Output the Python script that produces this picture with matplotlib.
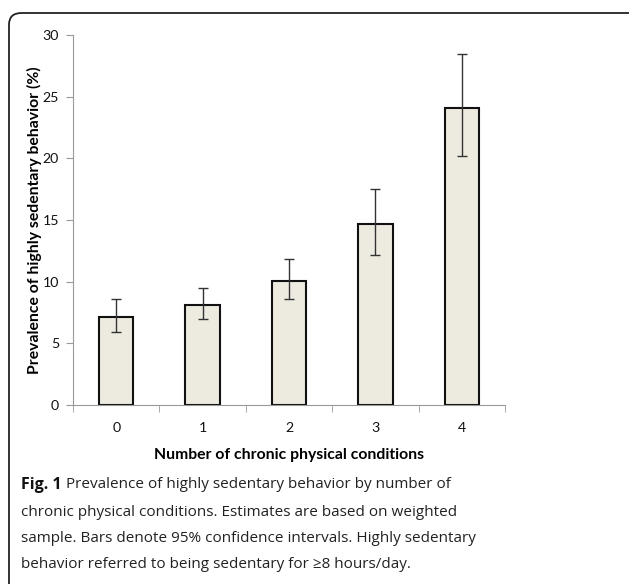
import matplotlib
matplotlib.use("Agg")
import matplotlib.pyplot as plt
from matplotlib.patches import FancyBboxPatch
import numpy as np

# Prevalence (%) by number of chronic physical conditions, with 95% CI
conditions = ["0", "1", "2", "3", "4"]
prevalence = [7.15, 8.1, 10.05, 14.65, 24.1]
ci_low = [5.95, 6.97, 8.57, 12.16, 20.2]
ci_high = [8.57, 9.46, 11.8, 17.54, 28.5]

y_ticks = [0, 5, 10, 15, 20, 25, 30]

caption_bold = "Fig. 1"
caption_lines = [
    " Prevalence of highly sedentary behavior by number of",
    "chronic physical conditions. Estimates are based on weighted",
    "sample. Bars denote 95% confidence intervals. Highly sedentary",
    "behavior referred to being sedentary for \u22658 hours/day.",
]

W, H = 629, 584
fig = plt.figure(figsize=(W / 100, H / 100), dpi=100)

# rounded frame around figure + caption
frame = FancyBboxPatch((9 / W, -20 / H), (W + 20) / W, (H - 13 + 20) / H,
                       boxstyle="round,pad=0,rounding_size=0.02",
                       transform=fig.transFigure, facecolor="none",
                       edgecolor="#222222", linewidth=1.3, clip_on=False)
fig.patches.append(frame)

ax = fig.add_axes([73 / W, (H - 405) / H, (505 - 73) / W, (405 - 35) / H])

x = np.arange(len(conditions))
err = [np.array(prevalence) - np.array(ci_low), np.array(ci_high) - np.array(prevalence)]
ax.bar(x, prevalence, width=0.4, color="#EDEBE0", edgecolor="#111111", linewidth=1.5, zorder=2)
ax.errorbar(x, prevalence, yerr=err, fmt="none", ecolor="#333333", elinewidth=1,
            capsize=3.5, capthick=1, zorder=3)

ax.set_xlim(-0.5, len(conditions) - 0.5)
ax.set_ylim(0, 30)
ax.set_yticks(y_ticks)
ax.set_xticks(x)
ax.set_xticklabels(conditions)
ax.set_xticks(np.arange(-0.5, len(conditions)), minor=True)

font_chart = "Lato"
for lab in ax.get_xticklabels() + ax.get_yticklabels():
    lab.set_fontfamily(font_chart)
    lab.set_fontsize(10.2)
    lab.set_color("#111111")

ax.tick_params(axis="x", which="major", length=0, pad=12)
ax.tick_params(axis="x", which="minor", length=5, color="#999999", direction="out")
ax.tick_params(axis="y", length=5, color="#999999", direction="out", pad=5)

for side in ["top", "right"]:
    ax.spines[side].set_visible(False)
ax.spines["left"].set_color("#999999")
ax.spines["bottom"].set_color("#999999")

ax.set_ylabel("Prevalence of highly sedentary behavior (%)", fontfamily=font_chart,
              fontweight="bold", fontsize=11.3)
ax.yaxis.set_label_coords(-0.072, 0.5)
ax.set_xlabel("Number of chronic physical conditions", fontfamily=font_chart,
              fontweight="bold", fontsize=11.3, labelpad=10)

# caption
cap_font = "Open Sans"
cap_size = 11.0
cap_color = "#222222"
line_y = [485, 512, 538, 565]
fig.canvas.draw()
renderer = fig.canvas.get_renderer()
t = fig.text(21 / W, 1 - line_y[0] / H, caption_bold, fontfamily=cap_font, fontweight="bold",
             fontsize=cap_size + 0.5, color="#111111", va="center", ha="left")
bb = t.get_window_extent(renderer=renderer)
fig.text(bb.x1 / W, 1 - line_y[0] / H, caption_lines[0], fontfamily=cap_font,
         fontsize=cap_size, color=cap_color, va="center", ha="left")
for line, yy in zip(caption_lines[1:], line_y[1:]):
    fig.text(21 / W, 1 - yy / H, line, fontfamily=cap_font, fontsize=cap_size,
             color=cap_color, va="center", ha="left")

fig.savefig("out.png", dpi=100)
